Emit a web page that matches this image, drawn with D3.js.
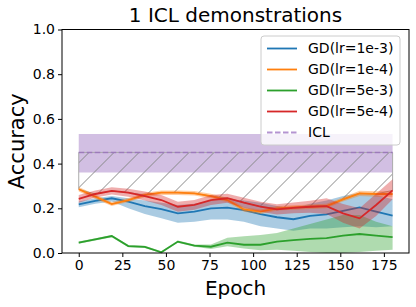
<!DOCTYPE html>
<meta charset="utf-8">
<style>
body { margin: 0; background: #fff; }
text { font-family: "DejaVu Sans", sans-serif; fill: #000; }
</style>
<body>
<script src="https://d3js.org/d3.v7.min.js"></script>
<script>
// data
var epochs = d3.range(20).map(function(k) { return k * 180 / 19; });
var xTicks = [0, 25, 50, 75, 100, 125, 150, 175];
var yTicks = [0.0, 0.2, 0.4, 0.6, 0.8, 1.0];

var gd1e3 = [0.218,0.233,0.245,0.230,0.210,0.196,0.177,0.185,0.200,0.203,0.192,0.174,0.160,0.151,0.166,0.173,0.189,0.204,0.185,0.167];
var gd1e3Lo = [0.205,0.220,0.230,0.200,0.175,0.155,0.135,0.140,0.150,0.150,0.140,0.120,0.110,0.100,0.110,0.110,0.115,0.120,0.115,0.120];
var gd1e3Hi = [0.230,0.245,0.255,0.245,0.235,0.225,0.215,0.220,0.235,0.240,0.235,0.225,0.210,0.200,0.220,0.235,0.255,0.270,0.260,0.240];

var gd1e4 = [0.285,0.252,0.219,0.237,0.260,0.270,0.270,0.267,0.255,0.237,0.195,0.185,0.200,0.204,0.207,0.210,0.240,0.267,0.264,0.264];
var gd1e4Lo = [0.275,0.242,0.210,0.228,0.250,0.260,0.260,0.257,0.245,0.227,0.185,0.175,0.190,0.194,0.197,0.200,0.230,0.255,0.252,0.252];
var gd1e4Hi = [0.295,0.262,0.228,0.246,0.270,0.280,0.280,0.277,0.265,0.247,0.205,0.195,0.210,0.214,0.217,0.220,0.250,0.279,0.276,0.276];

var gd5e3 = [0.046,0.061,0.076,0.031,0.027,0.003,0.051,0.033,0.028,0.046,0.037,0.037,0.051,0.058,0.063,0.067,0.078,0.085,0.078,0.071];
var gd5e3Lo = [0.041,0.056,0.071,0.026,0.022,0.000,0.046,0.028,0.018,0.030,0.020,0.012,0.015,0.010,0.005,0.000,0.000,0.005,0.010,0.015];
var gd5e3Hi = [0.051,0.066,0.081,0.036,0.032,0.008,0.056,0.038,0.038,0.068,0.075,0.080,0.090,0.110,0.130,0.150,0.170,0.170,0.140,0.120];

var gd5e4 = [0.242,0.264,0.278,0.270,0.255,0.237,0.207,0.215,0.237,0.245,0.225,0.207,0.195,0.202,0.207,0.210,0.177,0.155,0.215,0.280];
var gd5e4Lo = [0.225,0.248,0.262,0.252,0.235,0.215,0.185,0.193,0.215,0.225,0.203,0.185,0.172,0.178,0.180,0.175,0.135,0.110,0.165,0.240];
var gd5e4Hi = [0.259,0.280,0.294,0.288,0.275,0.259,0.229,0.237,0.259,0.265,0.247,0.229,0.218,0.226,0.234,0.245,0.219,0.200,0.265,0.330];

var iclMean = 0.45, iclLo = 0.36, iclHi = 0.532;

var names = ["GD(lr=1e-3)", "GD(lr=1e-4)", "GD(lr=5e-3)", "GD(lr=5e-4)"];
var colors = ["#1f77b4", "#ff7f0e", "#2ca02c", "#d62728"];
var iclColor = "#9467bd";

var series = [
  {mean: gd1e3, lo: gd1e3Lo, hi: gd1e3Hi},
  {mean: gd1e4, lo: gd1e4Lo, hi: gd1e4Hi},
  {mean: gd5e3, lo: gd5e3Lo, hi: gd5e3Hi},
  {mean: gd5e4, lo: gd5e4Lo, hi: gd5e4Hi}
];

var W = 416, H = 307;
var margin = {top: 29.5, right: 7, bottom: 54, left: 62};
var width = W - margin.left - margin.right,
    height = H - margin.top - margin.bottom;

var x = d3.scaleLinear().domain([-9.6, 189.4]).range([0, width]);
var y = d3.scaleLinear().domain([0, 1]).range([height, 0]);

var svg = d3.select("body").append("svg")
    .attr("width", W).attr("height", H);

var defs = svg.append("defs");
var pat = defs.append("pattern")
    .attr("id", "hatch")
    .attr("patternUnits", "userSpaceOnUse")
    .attr("width", 25).attr("height", 25);
pat.append("path")
    .attr("d", "M-2,2 L2,-2 M0,25 L25,0 M23,27 L27,23")
    .attr("stroke", "#888").attr("stroke-width", 1);

var g = svg.append("g")
    .attr("transform", "translate(" + margin.left + "," + margin.top + ")");

var area = d3.area()
    .x(function(d) { return x(d.e); })
    .y0(function(d) { return y(d.lo); })
    .y1(function(d) { return y(d.hi); });
var line = d3.line()
    .x(function(d) { return x(d.e); })
    .y(function(d) { return y(d.v); });

// ICL band
var iclRows = epochs.map(function(e) { return {e: e, lo: iclLo, hi: iclHi, v: iclMean}; });
g.append("path").datum(iclRows)
    .attr("d", area)
    .attr("fill", iclColor).attr("fill-opacity", 0.42);

// hatched gap between ICL and best GD
var hatchRows = epochs.map(function(e, i) {
  var best = d3.max(series, function(s) { return s.mean[i]; });
  return {e: e, lo: best, hi: iclMean};
});
g.append("path").datum(hatchRows)
    .attr("d", area)
    .attr("fill", "url(#hatch)")
    .attr("stroke", "#aaa").attr("stroke-width", 1);

// GD bands and lines
series.forEach(function(s, j) {
  var rows = epochs.map(function(e, i) { return {e: e, lo: s.lo[i], hi: s.hi[i], v: s.mean[i]}; });
  g.append("path").datum(rows)
      .attr("d", area)
      .attr("fill", colors[j]).attr("fill-opacity", 0.38);
  g.append("path").datum(rows)
      .attr("d", line)
      .attr("fill", "none")
      .attr("stroke", colors[j]).attr("stroke-width", 1.8);
});

g.append("path").datum(iclRows)
    .attr("d", line)
    .attr("fill", "none")
    .attr("stroke", iclColor).attr("stroke-opacity", 0.7)
    .attr("stroke-width", 1.5).attr("stroke-dasharray", "5.5,2.5");

// axes
var xAxis = g.append("g")
    .attr("transform", "translate(0," + height + ")")
    .call(d3.axisBottom(x).tickValues(xTicks).tickSize(4).tickPadding(3));
var yAxis = g.append("g")
    .call(d3.axisLeft(y).tickValues(yTicks).tickFormat(d3.format(".1f")).tickSize(4).tickPadding(3));
[xAxis, yAxis].forEach(function(a) {
  a.select(".domain").remove();
  a.selectAll("text").style("font-size", "14px").attr("fill", "#000");
  a.selectAll("line").attr("stroke", "#000");
});

g.append("rect")
    .attr("width", width).attr("height", height)
    .attr("fill", "none").attr("stroke", "#000").attr("stroke-width", 1);

// legend
var lg = svg.append("g").attr("transform", "translate(261,36)");
lg.append("rect")
    .attr("width", 139).attr("height", 109).attr("rx", 3)
    .attr("fill", "#fff").attr("fill-opacity", 0.8)
    .attr("stroke", "#ccc");
var legendItems = names.map(function(n, j) { return {name: n, color: colors[j], dash: null}; });
legendItems.push({name: "ICL", color: iclColor, dash: "5.5,2.5"});
legendItems.forEach(function(d, i) {
  var yy = 12.5 + i * 21;
  lg.append("line")
      .attr("x1", 6).attr("x2", 36).attr("y1", yy).attr("y2", yy)
      .attr("stroke", d.color).attr("stroke-width", 1.8)
      .attr("stroke-opacity", d.dash ? 0.7 : 1)
      .attr("stroke-dasharray", d.dash);
  lg.append("text")
      .attr("x", 47).attr("y", yy).attr("dy", "0.35em")
      .style("font-size", "14px")
      .text(d.name);
});

// labels
svg.append("text")
    .attr("x", margin.left + width / 2).attr("y", 22)
    .attr("text-anchor", "middle")
    .style("font-size", "20px")
    .text("1 ICL demonstrations");
svg.append("text")
    .attr("x", margin.left + width / 2).attr("y", 295)
    .attr("text-anchor", "middle")
    .style("font-size", "20px")
    .text("Epoch");
svg.append("text")
    .attr("transform", "translate(24," + (margin.top + height / 2) + ") rotate(-90)")
    .attr("text-anchor", "middle")
    .style("font-size", "21px")
    .text("Accuracy");
</script>
</body>
